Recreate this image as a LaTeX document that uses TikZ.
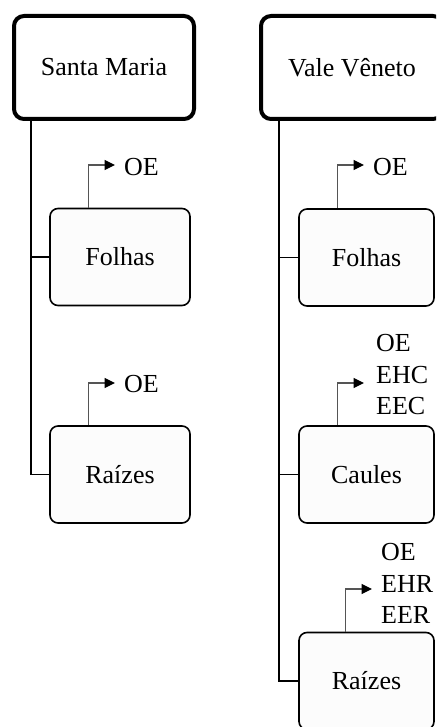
\documentclass[tikz,border=0pt]{standalone}
\usepackage{fontspec}
\setmainfont{Liberation Serif}
\usetikzlibrary{arrows.meta}
\definecolor{boxfill}{HTML}{FCFCFC}
\definecolor{arrgray}{HTML}{555555}
\tikzset{
  txt/.style={font=\fontsize{26}{31.5}\selectfont},
  topbox/.style={txt, draw=black, line width=4pt, rounded corners=10pt, fill=white, minimum height=103pt, inner sep=0pt},
  subbox/.style={txt, draw=black, line width=1.6pt, rounded corners=8pt, fill=boxfill, minimum width=140pt, minimum height=97pt, inner sep=0pt},
  lbl/.style={txt, inner sep=0pt, anchor=west, align=left},
  trunk/.style={line width=1.5pt, draw=black},
  arr/.style={line width=1.1pt, draw=arrgray, -{Triangle[length=10.5pt,width=10pt,color=black]}}
}
\begin{document}
\begin{tikzpicture}[x=1pt,y=-1pt]
\clip (0,0) rectangle (436,727);
\fill[white] (0,0) rectangle (436,727);
% trunk coordinates
\coordinate (smx) at (31,0);
\coordinate (vvx) at (279,0);
% top boxes
\node[topbox, minimum width=180pt] (sm) at (104,67.5) {Santa Maria};
\node[topbox, minimum width=182pt] (vv) at (352,67.5) {Vale Vêneto};
% sub boxes
\node[subbox] (f1) at (120,257) {Folhas};
\node[subbox] (r1) at (120,474.5) {Raízes};
\node[subbox, minimum width=135pt] (f2) at (366.5,257.5) {Folhas};
\node[subbox, minimum width=135pt] (c2) at (366.5,474.5) {Caules};
\node[subbox, minimum width=135pt] (r2) at (366.5,681) {Raízes};
% trunks
\draw[trunk] (sm.south -| smx) |- (r1.west);
\draw[trunk] (f1.west -| smx) -- (f1.west);
\draw[trunk] (vv.south -| vvx) |- (r2.west);
\draw[trunk] (f2.west -| vvx) -- (f2.west);
\draw[trunk] (c2.west -| vvx) -- (c2.west);
% labels
\node[lbl] (o1) at (124,167.5) {OE};
\node[lbl] (o2) at (124,384.5) {OE};
\node[lbl] (o3) at (373,167) {OE};
\node[lbl] (o4) at (376,375) {OE\\EHC\\EEC};
\node[lbl] (o5) at (381,583.5) {OE\\EHR\\EER};
% arrow tips
\coordinate (t1) at (115,165);
\coordinate (t2) at (115,383);
\coordinate (t3) at (364,165);
\coordinate (t4) at (364,383);
\coordinate (t5) at (372,589);
\draw[arr] ([xshift=39pt]f1.north west) |- (t1);
\draw[arr] ([xshift=39pt]r1.north west) |- (t2);
\draw[arr] ([xshift=39.5pt]f2.north west) |- (t3);
\draw[arr] ([xshift=39.5pt]c2.north west) |- (t4);
\draw[arr] ([xshift=47.5pt]r2.north west) |- (t5);
\end{tikzpicture}
\end{document}
